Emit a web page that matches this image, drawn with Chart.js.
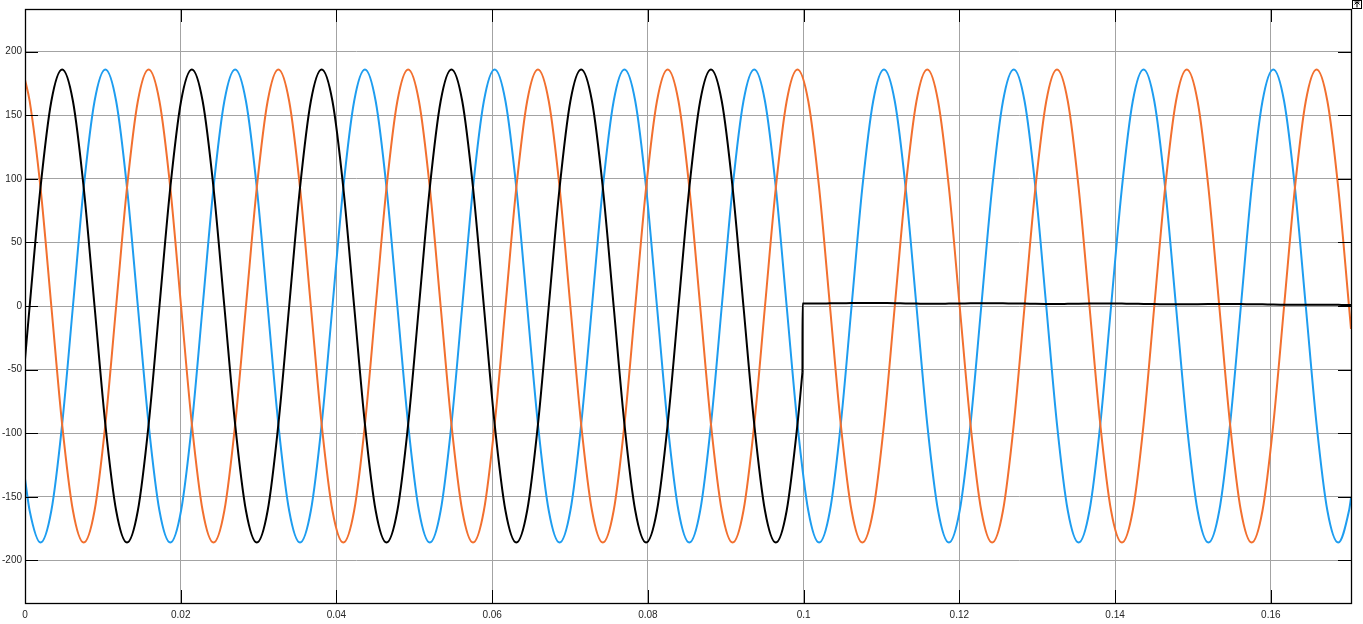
<!DOCTYPE html>
<html>
<head>
<meta charset="utf-8">
<script src="https://cdn.jsdelivr.net/npm/chart.js@4/dist/chart.umd.min.js"></script>
<style>
  html, body { margin: 0; padding: 0; background: #fff; }
  #wrap { width: 1363px; height: 624px; position: relative; }
</style>
</head>
<body>
<div id="wrap"><canvas id="scope"></canvas></div>
<script>
// sample times (ms), every ~1/12 of a cycle
const timesMs = [0, 0.60, 1.99, 3.38, 4.77, 6.16, 7.54, 8.93, 10.32, 11.71, 13.10, 14.49, 15.88,
  17.27, 18.66, 20.04, 21.43, 22.82, 24.21, 25.60, 26.99, 28.38, 29.77, 31.16, 32.54,
  33.93, 35.32, 36.71, 38.10, 39.49, 40.88, 42.27, 43.66, 45.04, 46.43, 47.82, 49.21,
  50.60, 51.99, 53.38, 54.77, 56.16, 57.54, 58.93, 60.32, 61.71, 63.10, 64.49, 65.88,
  67.27, 68.66, 70.04, 71.43, 72.82, 74.21, 75.60, 76.99, 78.38, 79.77, 81.16, 82.54,
  83.93, 85.32, 86.71, 88.10, 89.49, 90.88, 92.27, 93.66, 95.04, 96.43, 97.82, 99.21,
  100.60, 101.99, 103.38, 104.77, 106.16, 107.54, 108.93, 110.32, 111.71, 113.10, 114.49, 115.88,
  117.27, 118.66, 120.04, 121.43, 122.82, 124.21, 125.60, 126.99, 128.38, 129.77, 131.16, 132.54,
  133.93, 135.32, 136.71, 138.10, 139.49, 140.88, 142.27, 143.66, 145.04, 146.43, 147.82, 149.21,
  150.60, 151.99, 153.38, 154.77, 156.16, 157.54, 158.93, 160.32, 161.71, 163.10, 164.49, 165.88,
  167.27, 168.66, 170.04, 170.30];

// phase A (black) - collapses to ~0 after the fault at 0.1 s
const phaseA = [-42,
  0, 93, 161, 186, 161, 93, 0, -93, -161, -186, -161, -93,
  0, 93, 161, 186, 161, 93, 0, -93, -161, -186, -161, -93,
  0, 93, 161, 186, 161, 93, 0, -93, -161, -186, -161, -93,
  0, 93, 161, 186, 161, 93, 0, -93, -161, -186, -161, -93,
  0, 93, 161, 186, 161, 93, 0, -93, -161, -186, -161, -93,
  0, 93, 161, 186, 161, 93, 0, -93, -161, -186, -161, -93,
  2.0, 2.0, 2.1, 2.2, 2.3, 2.4, 2.4, 2.3, 2.2, 2.0, 1.9, 1.8,
  1.8, 1.9, 2.0, 2.1, 2.2, 2.2, 2.1, 2.0, 1.9, 1.7, 1.6, 1.6,
  1.7, 1.8, 1.9, 2.0, 2.0, 1.9, 1.8, 1.6, 1.5, 1.4, 1.3, 1.3,
  1.4, 1.5, 1.6, 1.6, 1.5, 1.4, 1.3, 1.1, 1.0, 0.9, 0.9, 1.0,
  1.0, 0.9, 0.8, 0.7];
// the step of phase A at the fault instant
const faultMs = [99.85, 99.86];
const faultA = [-52, 2.0];

// phase B (blue)
const phaseB = [-136,
  -161, -186, -161, -93, 0, 93, 161, 186, 161, 93, 0, -93,
  -161, -186, -161, -93, 0, 93, 161, 186, 161, 93, 0, -93,
  -161, -186, -161, -93, 0, 93, 161, 186, 161, 93, 0, -93,
  -161, -186, -161, -93, 0, 93, 161, 186, 161, 93, 0, -93,
  -161, -186, -161, -93, 0, 93, 161, 186, 161, 93, 0, -93,
  -161, -186, -161, -93, 0, 93, 161, 186, 161, 93, 0, -93,
  -161, -186, -161, -93, 0, 93, 161, 186, 161, 93, 0, -93,
  -161, -186, -161, -93, 0, 93, 161, 186, 161, 93, 0, -93,
  -161, -186, -161, -93, 0, 93, 161, 186, 161, 93, 0, -93,
  -161, -186, -161, -93, 0, 93, 161, 186, 161, 93, 0, -93,
  -161, -186, -161, -151];

// phase C (orange)
const phaseC = [178,
  161, 93, 0, -93, -161, -186, -161, -93, 0, 93, 161, 186,
  161, 93, 0, -93, -161, -186, -161, -93, 0, 93, 161, 186,
  161, 93, 0, -93, -161, -186, -161, -93, 0, 93, 161, 186,
  161, 93, 0, -93, -161, -186, -161, -93, 0, 93, 161, 186,
  161, 93, 0, -93, -161, -186, -161, -93, 0, 93, 161, 186,
  161, 93, 0, -93, -161, -186, -161, -93, 0, 93, 161, 186,
  161, 93, 0, -93, -161, -186, -161, -93, 0, 93, 161, 186,
  161, 93, 0, -93, -161, -186, -161, -93, 0, 93, 161, 186,
  161, 93, 0, -93, -161, -186, -161, -93, 0, 93, 161, 186,
  161, 93, 0, -93, -161, -186, -161, -93, 0, 93, 161, 186,
  161, 93, 0, -18];

const xTicks = [0, 0.02, 0.04, 0.06, 0.08, 0.1, 0.12, 0.14, 0.16];
const yTicks = [-200, -150, -100, -50, 0, 50, 100, 150, 200];

const toPts = (vals) => vals.map((v, i) => ({ x: timesMs[i] / 1000, y: v }));

// black is split at the fault so the spline does not bend around the step
const allA = toPts(phaseA);
const faultT = faultMs[0] / 1000;
const blackPre = allA.filter(p => p.x < faultT);
blackPre.push({ x: faultT, y: faultA[0] });
const blackPost = faultMs.map((t, i) => ({ x: t / 1000, y: faultA[i] }))
  .concat(allA.filter(p => p.x > faultT));

// frame, inward tick marks and the little corner icon of the scope
const scopeFrame = {
  id: 'scopeFrame',
  afterDatasetsDraw(chart) {
    const { ctx, chartArea: a, scales } = chart;
    ctx.save();
    ctx.strokeStyle = '#000';
    ctx.lineWidth = 1;
    ctx.beginPath();
    xTicks.forEach(v => {
      const px = Math.round(scales.x.getPixelForValue(v)) + 0.5;
      ctx.moveTo(px, a.top); ctx.lineTo(px, a.top + 13);
      ctx.moveTo(px, a.bottom); ctx.lineTo(px, a.bottom - 13);
    });
    yTicks.forEach(v => {
      const py = Math.round(scales.y.getPixelForValue(v)) + 0.5;
      ctx.moveTo(a.left, py); ctx.lineTo(a.left + 13, py);
      ctx.moveTo(a.right, py); ctx.lineTo(a.right - 13, py);
    });
    ctx.stroke();
    ctx.lineWidth = 1.3;
    ctx.strokeRect(Math.round(a.left) + 0.5, Math.round(a.top) + 0.5,
      Math.round(a.right - a.left), Math.round(a.bottom - a.top));
    // corner icon
    ctx.lineWidth = 1;
    ctx.strokeRect(1352.5, 0.5, 9, 8);
    ctx.beginPath();
    ctx.moveTo(1357, 2); ctx.lineTo(1357, 7.5);
    ctx.moveTo(1354.5, 4.5); ctx.lineTo(1357, 2); ctx.lineTo(1359.5, 4.5);
    ctx.moveTo(1354.5, 2); ctx.lineTo(1359.5, 2);
    ctx.stroke();
    ctx.restore();
  }
};

const lineStyle = {
  pointRadius: 0,
  borderWidth: 2,
  cubicInterpolationMode: 'monotone',
  fill: false
};

new Chart(document.getElementById('scope'), {
  type: 'line',
  data: {
    datasets: [
      Object.assign({ label: 'A', data: blackPre, borderColor: '#000000' }, lineStyle),
      Object.assign({ label: 'A2', data: blackPost, borderColor: '#000000' }, lineStyle),
      Object.assign({ label: 'C', data: toPts(phaseC), borderColor: '#f2702f' }, lineStyle),
      Object.assign({ label: 'B', data: toPts(phaseB), borderColor: '#1e9df0' }, lineStyle)
    ]
  },
  options: {
    responsive: true,
    maintainAspectRatio: false,
    animation: false,
    layout: { padding: { top: 7, right: 12, left: 0, bottom: 0 } },
    plugins: { legend: { display: false }, tooltip: { enabled: false } },
    scales: {
      x: {
        type: 'linear',
        min: 0,
        max: 0.1703,
        afterBuildTicks: (s) => { s.ticks = xTicks.map(v => ({ value: v })); },
        afterFit: (s) => { s.height = 21; },
        grid: { color: '#a3a3a3', lineWidth: 1, drawTicks: false },
        border: { display: false },
        ticks: {
          padding: 6,
          maxRotation: 0,
          color: '#262626',
          font: { family: 'Liberation Sans, Arial, sans-serif', size: 10 },
          callback: (v) => String(+v.toFixed(2))
        }
      },
      y: {
        min: -233.5,
        max: 233.5,
        afterBuildTicks: (s) => { s.ticks = yTicks.map(v => ({ value: v })); },
        afterFit: (s) => { s.width = 25; },
        grid: { color: '#a3a3a3', lineWidth: 1, drawTicks: false },
        border: { display: false },
        ticks: {
          padding: 3,
          color: '#262626',
          font: { family: 'Liberation Sans, Arial, sans-serif', size: 10 }
        }
      }
    }
  },
  plugins: [scopeFrame]
});
</script>
</body>
</html>
